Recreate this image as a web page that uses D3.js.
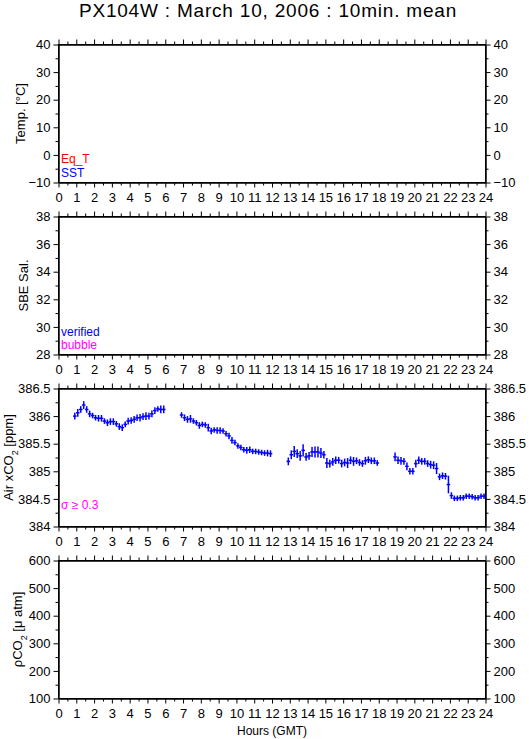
<!DOCTYPE html>
<html lang="en">
<head>
<meta charset="UTF-8">
<title>PX104W : March 10, 2006 : 10min. mean</title>
<script src="https://d3js.org/d3.v7.min.js"></script>
<style>
  body { margin: 0; background: #fff; }
  svg { font-family: "Liberation Sans", Arial, Helvetica, sans-serif; }
  .tick text { font-size: 13px; fill: #000; }
</style>
</head>
<body>
<div id="chart"></div>
<script>
// hour ticks shared by every panel
const hourLabels = [0,1,2,3,4,5,6,7,8,9,10,11,12,13,14,15,16,17,18,19,20,21,22,23,24];
const halfHours = [0.5,1.5,2.5,3.5,4.5,5.5,6.5,7.5,8.5,9.5,10.5,11.5,12.5,13.5,14.5,15.5,16.5,17.5,18.5,19.5,20.5,21.5,22.5,23.5];

// y axes of the four panels
const tempTicks = [-10,0,10,20,30,40];
const tempMinor = [-5,5,15,25,35];
const salTicks = [28,30,32,34,36,38];
const salMinor = [29,31,33,35,37];
const xco2Ticks = [384,384.5,385,385.5,386,386.5];
const xco2Minor = [384.25,384.75,385.25,385.75,386.25];
const pco2Ticks = [100,200,300,400,500,600];
const pco2Minor = [150,250,350,450,550];

// Air xCO2 10 min means (GMT), ppm, and standard deviation
const times = [
  "0:55","1:05","1:15","1:25","1:35","1:45","1:55","2:05","2:15","2:25","2:35","2:45","2:55","3:05","3:15","3:25",
  "3:35","3:45","3:55","4:05","4:15","4:25","4:35","4:45","4:55","5:05","5:15","5:25","5:35","5:45","5:55",
  "6:55","7:05","7:15","7:25","7:35","7:45","7:55","8:05","8:15","8:25","8:35","8:45","8:55","9:05","9:15","9:25",
  "9:35","9:45","9:55","10:05","10:15","10:25","10:35","10:45","10:55","11:05","11:15","11:25","11:35","11:45","11:55",
  "12:55","13:05","13:15","13:25","13:35","13:45","13:55","14:05","14:15","14:25","14:35","14:45","14:55","15:05","15:15","15:25",
  "15:35","15:45","15:55","16:05","16:15","16:25","16:35","16:45","16:55","17:05","17:15","17:25","17:35","17:45","17:55",
  "18:55","19:05","19:15","19:25","19:35","19:45","19:55","20:05","20:15","20:25","20:35","20:45","20:55","21:05","21:15","21:25",
  "21:35","21:45","21:55","22:05","22:15","22:25","22:35","22:45","22:55","23:05","23:15","23:25","23:35","23:45","23:55"
];
const xco2 = [
  386.00,386.06,386.12,386.20,386.12,386.04,386.01,385.97,385.96,385.96,385.91,385.88,385.90,385.90,385.86,385.81,
  385.79,385.85,385.91,385.92,385.94,385.97,385.97,385.99,386.00,386.00,386.04,386.10,386.13,386.12,386.12,
  386.02,385.97,385.94,385.95,385.91,385.88,385.83,385.85,385.84,385.79,385.73,385.75,385.74,385.74,385.73,385.68,
  385.64,385.56,385.52,385.46,385.43,385.39,385.38,385.39,385.36,385.36,385.35,385.34,385.33,385.33,385.32,
  385.18,385.30,385.36,385.32,385.28,385.38,385.26,385.28,385.35,385.35,385.35,385.33,385.30,385.15,385.14,385.17,
  385.20,385.20,385.14,385.16,385.15,385.20,385.18,385.19,385.16,385.14,385.19,385.21,385.19,385.19,385.15,
  385.26,385.20,385.19,385.18,385.09,385.00,385.00,385.14,385.20,385.18,385.18,385.14,385.12,385.11,385.05,384.90,
  384.92,384.91,384.76,384.56,384.51,384.51,384.52,384.52,384.55,384.55,384.54,384.52,384.52,384.55,384.55
];
const xco2Sd = [
  0.06,0.07,0.06,0.07,0.06,0.06,0.05,0.05,0.06,0.06,0.05,0.06,0.06,0.06,0.05,0.06,
  0.06,0.05,0.06,0.06,0.06,0.06,0.07,0.06,0.07,0.06,0.06,0.06,0.05,0.07,0.07,
  0.05,0.06,0.06,0.07,0.05,0.05,0.06,0.05,0.05,0.07,0.06,0.05,0.06,0.06,0.05,0.05,
  0.06,0.06,0.05,0.05,0.05,0.05,0.06,0.06,0.05,0.05,0.05,0.05,0.05,0.06,0.06,
  0.07,0.08,0.10,0.08,0.09,0.11,0.07,0.07,0.09,0.10,0.10,0.09,0.07,0.09,0.07,0.07,
  0.07,0.06,0.07,0.07,0.09,0.07,0.08,0.06,0.06,0.06,0.07,0.06,0.06,0.06,0.05,
  0.08,0.07,0.07,0.06,0.07,0.06,0.06,0.07,0.07,0.06,0.06,0.06,0.07,0.07,0.10,0.06,
  0.06,0.06,0.16,0.06,0.05,0.05,0.05,0.05,0.05,0.05,0.05,0.05,0.05,0.05,0.05
];

const W = 529, H = 739;
const svg = d3.select("#chart").append("svg").attr("width", W).attr("height", H);

const x = d3.scaleLinear().domain([0, 24]).range([58.5, 485.5]);
const panelTops = [44.5, 216.5, 388.5, 560.5];
const ph = 138;

const panels = [
  { ticks: tempTicks, minor: tempMinor, fmt: d3.format("d"), labelX: 20 },
  { ticks: salTicks, minor: salMinor, fmt: d3.format("d"), labelX: 23 },
  { ticks: xco2Ticks, minor: xco2Minor, fmt: d => String(d), labelX: 8 },
  { ticks: pco2Ticks, minor: pco2Minor, fmt: d3.format("d"), labelX: 17 }
];

svg.append("text")
  .attr("x", 268).attr("y", 17)
  .attr("text-anchor", "middle")
  .style("font-size", "19px")
  .style("letter-spacing", "0.8px")
  .text("PX104W : March 10, 2006 : 10min. mean");

const yScales = [];
panels.forEach((p, i) => {
  const top = panelTops[i], bottom = top + ph;
  const y = d3.scaleLinear().domain(d3.extent(p.ticks)).range([bottom, top]);
  yScales.push(y);
  const g = svg.append("g");

  // left / right
  g.append("g").attr("transform", `translate(${x(0)},0)`)
    .call(d3.axisLeft(y).tickValues(p.ticks).tickFormat(p.fmt).tickSize(5).tickSizeOuter(0).tickPadding(3));
  g.append("g").attr("transform", `translate(${x(0)},0)`)
    .call(d3.axisLeft(y).tickValues(p.minor).tickFormat("").tickSize(3).tickSizeOuter(0));
  g.append("g").attr("transform", `translate(${x(24)},0)`)
    .call(d3.axisRight(y).tickValues(p.ticks).tickFormat(p.fmt).tickSize(5).tickSizeOuter(0).tickPadding(3));
  g.append("g").attr("transform", `translate(${x(24)},0)`)
    .call(d3.axisRight(y).tickValues(p.minor).tickFormat("").tickSize(3).tickSizeOuter(0));

  // top / bottom
  g.append("g").attr("transform", `translate(0,${top})`)
    .call(d3.axisTop(x).tickValues(hourLabels).tickFormat("").tickSize(5).tickSizeOuter(0));
  g.append("g").attr("transform", `translate(0,${top})`)
    .call(d3.axisTop(x).tickValues(halfHours).tickFormat("").tickSize(3).tickSizeOuter(0));
  g.append("g").attr("transform", `translate(0,${bottom})`)
    .call(d3.axisBottom(x).tickValues(hourLabels).tickFormat(d3.format("d")).tickSize(5).tickSizeOuter(0).tickPadding(5));
  g.append("g").attr("transform", `translate(0,${bottom})`)
    .call(d3.axisBottom(x).tickValues(halfHours).tickFormat("").tickSize(3).tickSizeOuter(0));

  g.selectAll(".domain").attr("stroke", "#000");
  g.selectAll(".tick line").attr("stroke", "#000");

  g.append("rect")
    .attr("x", x(0)).attr("y", top)
    .attr("width", x(24) - x(0)).attr("height", ph)
    .attr("fill", "none").attr("stroke", "#000");
});

// y axis titles
function yTitle(i, parts) {
  const cy = panelTops[i] + ph / 2;
  const t = svg.append("text")
    .attr("transform", `translate(${panels[i].labelX},${cy}) rotate(-90)`)
    .attr("text-anchor", "middle")
    .attr("dy", "0.35em")
    .style("font-size", "13px");
  parts.forEach(pt => {
    const s = t.append("tspan").text(pt.t);
    if (pt.sub) s.attr("baseline-shift", "sub").style("font-size", "9px");
  });
}
yTitle(0, [{ t: "Temp. [°C]" }]);
yTitle(1, [{ t: "SBE Sal." }]);
yTitle(2, [{ t: "Air xCO" }, { t: "2", sub: true }, { t: " [ppm]" }]);
yTitle(3, [{ t: "ρCO" }, { t: "2", sub: true }, { t: " [μ atm]" }]);

// legends
const legends = [
  { t: "Eq_T", c: "#ff0000", y: 162.5 },
  { t: "SST", c: "#0000ff", y: 176.5 },
  { t: "verified", c: "#0000ff", y: 336 },
  { t: "bubble", c: "#ff00ff", y: 349 },
  { t: "σ ≥ 0.3", c: "#ff00ff", y: 508.5 }
];
svg.selectAll("text.legend").data(legends).join("text")
  .attr("class", "legend")
  .attr("x", 61).attr("y", d => d.y)
  .attr("fill", d => d.c)
  .style("font-size", "12px")
  .text(d => d.t);

// Air xCO2 crosses
const parseHour = s => { const [h, m] = s.split(":").map(Number); return h + m / 60; };
const pts = times.map((s, i) => ({ t: parseHour(s), v: xco2[i], sd: xco2Sd[i] }));
const yC = yScales[2];
const half = 6 / 60;
const marks = svg.append("g").attr("stroke", "#0000ff").attr("stroke-width", 1.5);
marks.selectAll("line.h").data(pts).join("line")
  .attr("class", "h")
  .attr("x1", d => x(d.t - half)).attr("x2", d => x(d.t + half))
  .attr("y1", d => yC(d.v)).attr("y2", d => yC(d.v));
marks.selectAll("line.v").data(pts).join("line")
  .attr("class", "v")
  .attr("x1", d => x(d.t)).attr("x2", d => x(d.t))
  .attr("y1", d => yC(d.v - d.sd)).attr("y2", d => yC(d.v + d.sd));

svg.append("text")
  .attr("x", 272).attr("y", 735)
  .attr("text-anchor", "middle")
  .style("font-size", "12px")
  .text("Hours (GMT)");
</script>
</body>
</html>
